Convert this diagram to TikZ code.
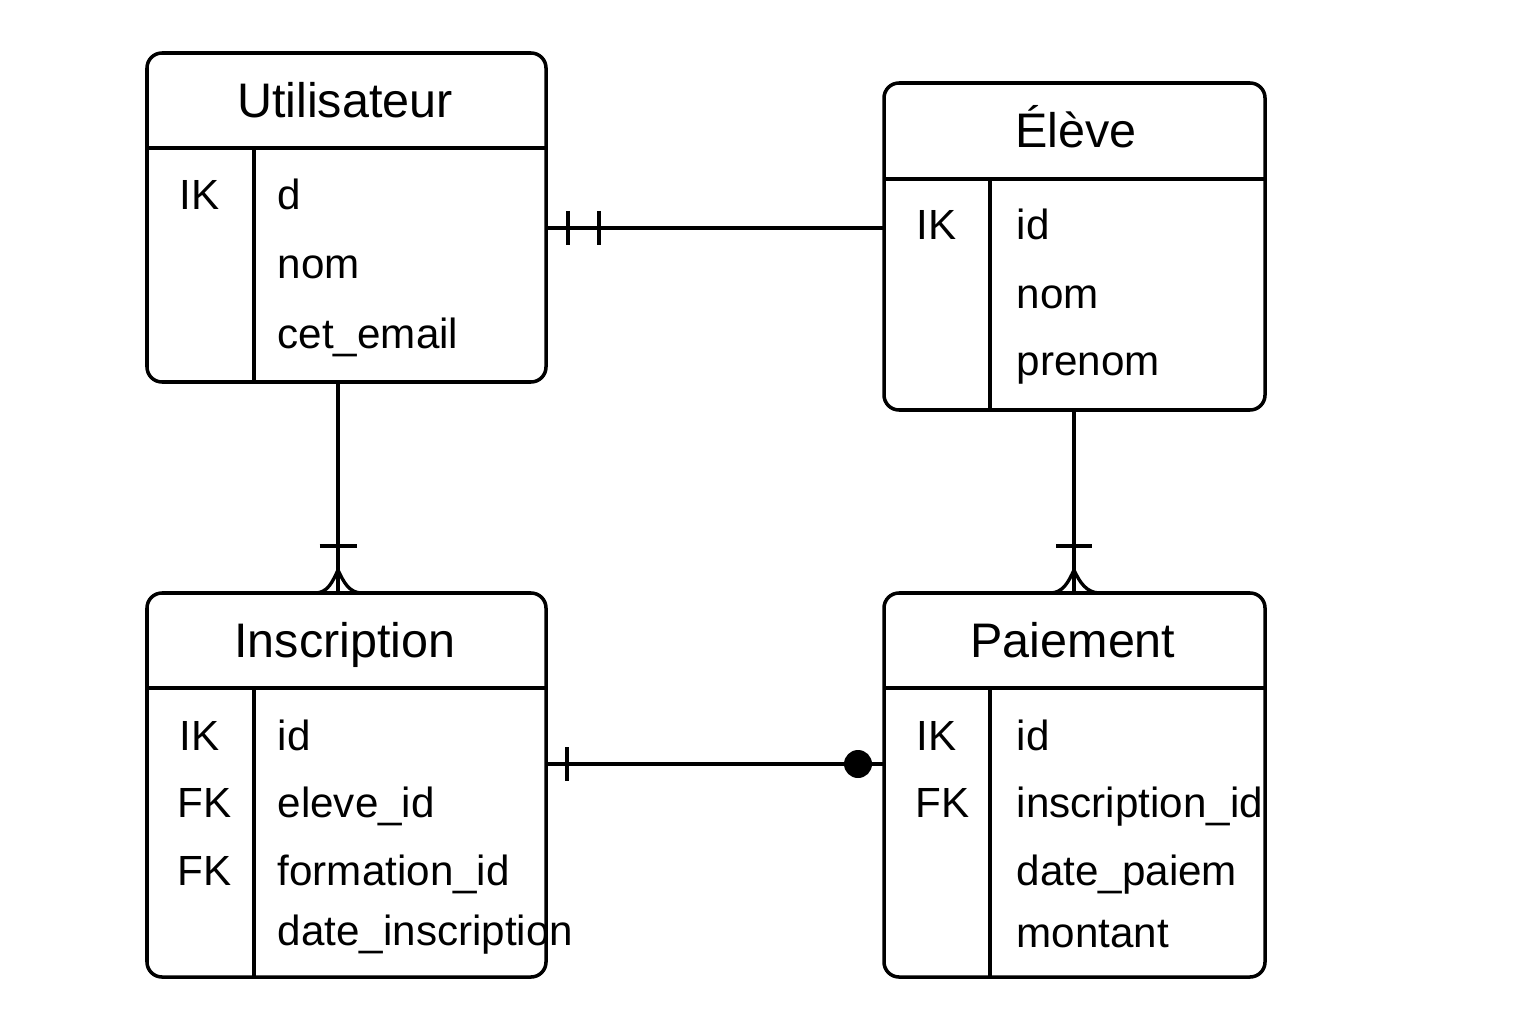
\documentclass[tikz,border=0pt]{standalone}
\usepackage{fontspec}
\setmainfont{Liberation Sans}
\tikzset{>=stealth}
\usetikzlibrary{positioning}
\colorlet{background}{white}
\colorlet{penColor}{black}
\tikzset{
	tbl/.style={draw=penColor, line width=1pt, rounded corners=0.15cm, inner sep=0pt},
	sep/.style={draw=penColor, line width=1pt},
	rel/.style={draw=penColor, line width=0.95pt},
	title/.style={penColor, anchor=base, inner sep=0pt, font=\fontsize{13.8}{16}\selectfont},
	key/.style={penColor, anchor=base west, inner sep=0pt, font=\fontsize{12}{14}\selectfont},
	field/.style={penColor, anchor=base west, inner sep=0pt, font=\fontsize{12}{14}\selectfont},
}

\begin{document}
\begin{tikzpicture}
				\fill[background] (0,0) rectangle (15.36,10.24);
				% tables
				\node[tbl, minimum width=3.99cm, minimum height=3.29cm] (util) at (3.465,8.065) {};
				\node[tbl, minimum width=3.81cm, minimum height=3.27cm] (eleve) at (10.745,7.775) {};
				\node[tbl, minimum width=3.99cm, minimum height=3.84cm] (insc) at (3.465,2.39) {};
				\node[tbl, minimum width=3.81cm, minimum height=3.84cm] (paie) at (10.745,2.39) {};
				\draw[sep] (1.47,8.76) -- (5.46,8.76);
				\draw[sep] (2.54,8.76) -- (2.54,6.42);
				\draw[sep] (8.84,8.45) -- (12.65,8.45);
				\draw[sep] (9.90,8.45) -- (9.90,6.14);
				\draw[sep] (1.47,3.36) -- (5.46,3.36);
				\draw[sep] (2.54,3.36) -- (2.54,0.47);
				\draw[sep] (8.84,3.36) -- (12.65,3.36);
				\draw[sep] (9.90,3.36) -- (9.90,0.47);

				\node[title] (utilT) at (3.45,9.06) {Utilisateur};
				\node[key] (utilK1) at (1.79,8.14) {IK};
				\node[field] (utilF1) at (2.77,8.14) {d};
				\node[field] (utilF2) at (2.77,7.46) {nom};
				\node[field] (utilF3) at (2.77,6.76) {cet\_email};

				\node[title] (eleveT) at (10.76,8.76) {Élève};
				\node[key] (eleveK1) at (9.16,7.84) {IK};
				\node[field] (eleveF1) at (10.16,7.84) {id};
				\node[field] (eleveF2) at (10.16,7.16) {nom};
				\node[field] (eleveF3) at (10.16,6.49) {prenom};

				\node[title] (inscT) at (3.45,3.67) {Inscription};
				\node[key] (inscK1) at (1.79,2.74) {IK};
				\node[key] (inscK2) at (1.77,2.07) {FK};
				\node[key] (inscK3) at (1.77,1.39) {FK};
				\node[field] (inscF1) at (2.77,2.74) {id};
				\node[field] (inscF2) at (2.77,2.07) {eleve\_id};
				\node[field] (inscF3) at (2.77,1.39) {formation\_id};
				\node[field] (inscF4) at (2.77,0.79) {date\_inscription};

				\node[title] (paieT) at (10.73,3.67) {Paiement};
				\node[key] (paieK1) at (9.16,2.74) {IK};
				\node[key] (paieK2) at (9.15,2.07) {FK};
				\node[field] (paieF1) at (10.16,2.74) {id};
				\node[field] (paieF2) at (10.16,2.07) {inscription\_id};
				\node[field] (paieF3) at (10.16,1.39) {date\_paiem};
				\node[field] (paieF4) at (10.16,0.77) {montant};

				% relations
				\coordinate (utilE) at (5.46,7.96);
				\coordinate (eleveW) at (8.84,7.96);
				\coordinate (utilS) at (3.38,6.42);
				\coordinate (inscN) at (3.38,4.31);
				\coordinate (eleveS) at (10.74,6.14);
				\coordinate (paieN) at (10.74,4.31);
				\coordinate (inscE) at (5.46,2.60);
				\coordinate (paieW) at (8.84,2.60);

				\draw[rel] (utilE) -- (eleveW);
				\draw[rel] ([xshift=0.22cm]utilE) ++(0,0.17) -- ++(0,-0.34);
				\draw[rel] ([xshift=0.53cm]utilE) ++(0,0.17) -- ++(0,-0.34);

				\draw[rel] (utilS) -- (inscN);
				\draw[rel] ([yshift=0.47cm]inscN) ++(-0.185,0) -- ++(0.37,0);
				\draw[rel] ([yshift=0.23cm]inscN) to[out=-115,in=0] ++(-0.23,-0.23);
				\draw[rel] ([yshift=0.23cm]inscN) to[out=-65,in=180] ++(0.24,-0.23);

				\draw[rel] (eleveS) -- (paieN);
				\draw[rel] ([yshift=0.47cm]paieN) ++(-0.18,0) -- ++(0.36,0);
				\draw[rel] ([yshift=0.23cm]paieN) to[out=-115,in=0] ++(-0.24,-0.23);
				\draw[rel] ([yshift=0.23cm]paieN) to[out=-65,in=180] ++(0.26,-0.23);

				\draw[rel] (inscE) -- (paieW);
				\draw[rel] ([xshift=0.21cm]inscE) ++(0,0.17) -- ++(0,-0.34);
				\fill[penColor] ([xshift=-0.26cm]paieW) circle [radius=0.14];
\end{tikzpicture}
\end{document}
